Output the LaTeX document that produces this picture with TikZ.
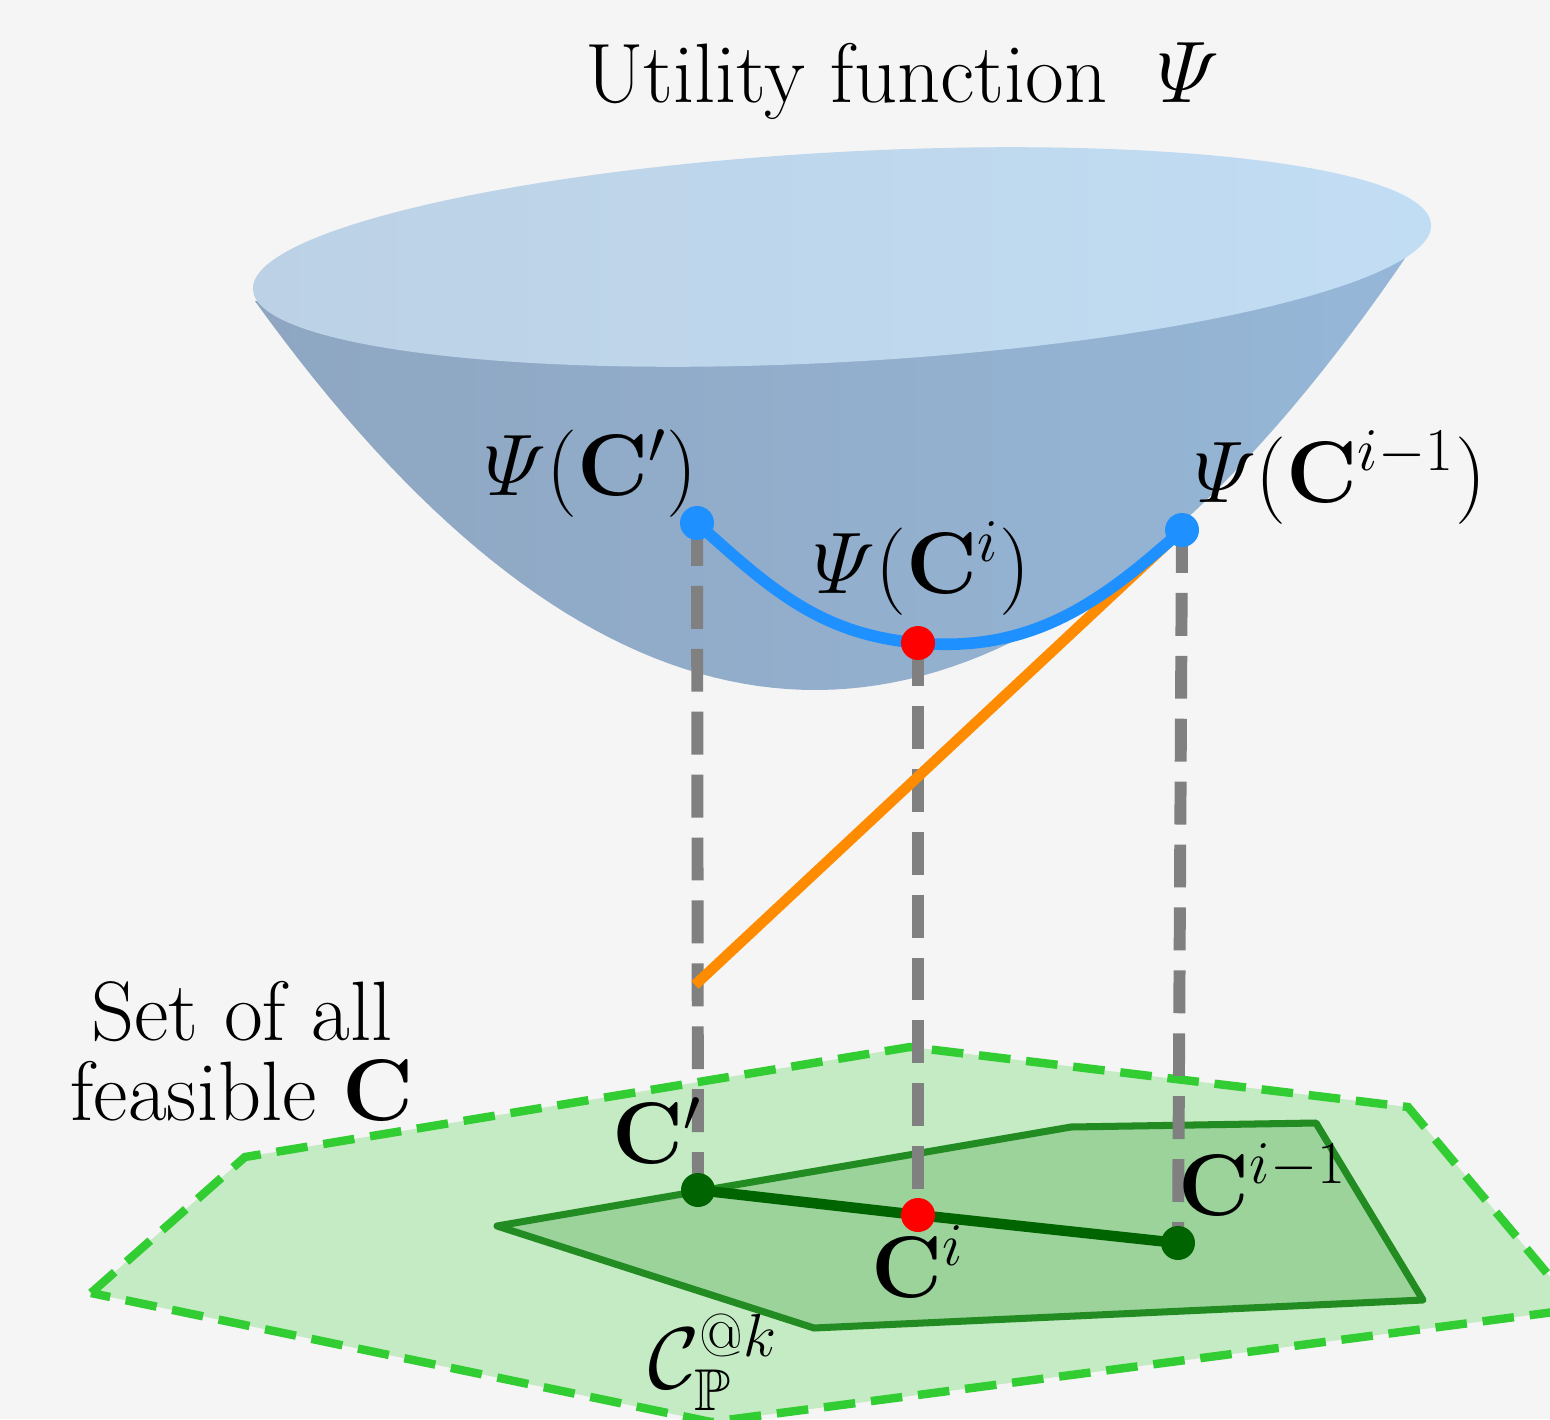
\documentclass[tikz,border=0pt]{standalone}
\usepackage{amsmath,amssymb}
\usepackage{xcolor}
\usepackage{tikz}
\usetikzlibrary{arrows.meta,positioning,calc}
\definecolor{softgray}{RGB}{245,245,245}
\definecolor{rimleft}{RGB}{188,209,229}
\definecolor{rimright}{RGB}{193,221,244}
\definecolor{bowlleft}{RGB}{142,166,193}
\definecolor{bowlright}{RGB}{150,183,216}
\definecolor{curveblue}{RGB}{30,144,255}
\definecolor{chordorange}{RGB}{255,140,0}
\definecolor{dropgray}{RGB}{128,128,128}
\definecolor{setgreen}{RGB}{50,205,50}
\definecolor{setfill}{RGB}{196,235,196}
\definecolor{regiongreen}{RGB}{34,139,34}
\definecolor{regionfill}{RGB}{155,211,155}
\definecolor{pathgreen}{RGB}{0,100,0}
\newcommand{\labelfont}{\fontsize{24}{22.7}\selectfont}

\begin{document}
\begin{tikzpicture}[every node/.style={font=\labelfont,inner sep=0pt},
  dot/.style={circle,inner sep=0pt,minimum size=0.34cm},
  drop/.style={dropgray,line width=3.4pt,dash pattern=on 12.2pt off 5.7pt}]
\useasboundingbox (0,0) rectangle (15.5,14.19);
\fill[softgray] (0,0) rectangle (15.5,14.19);
% feasible set and the region P
\begin{scope}
\clip (0,0) rectangle (15.5,14.19);
\draw[line width=2.4pt,dash pattern=on 9pt off 4.5pt,draw=setgreen,fill=setfill] (0.91,1.26) -- (2.45,2.62) -- (9.10,3.72) -- (14.08,3.12) -- (15.77,1.10) -- (7.11,-0.03) -- cycle;
\end{scope}
\draw[line width=2pt,line join=round,draw=regiongreen,fill=regionfill] (4.97,1.93) -- (10.71,2.92) -- (13.16,2.96) -- (14.23,1.19) -- (8.14,0.91) -- cycle;
% the bowl
\shade[left color=bowlleft,right color=bowlright] plot[domain=2.55:14.25,samples=80] (\x,{7.29+0.124*(\x-8.15)^2}) -- cycle;
\shade[left color=rimleft,right color=rimright,shift={(8.42,11.62)},rotate=3.16] (0,0) ellipse (5.90 and 1.05);
% points
\coordinate (psiA) at (6.97,8.96);
\coordinate (psiB) at (9.18,7.76);
\coordinate (psiC) at (11.82,8.89);
\coordinate (cA) at (6.98,2.29);
\coordinate (cB) at (9.18,2.04);
\coordinate (cC) at (11.78,1.76);
\coordinate (chordEnd) at (6.95,4.34);
\draw[drop] (psiA) -- (cA);
\draw[drop] (psiB) -- (cB);
\draw[drop] (psiC) -- (cC);
\draw[chordorange,line width=3pt] (psiC) -- (chordEnd);
\draw[curveblue,line width=3.3pt] (psiA) to[out=-42,in=175] (psiB) to[out=-5,in=-138] (psiC);
\draw[pathgreen,line width=3pt] (cA) -- (cB) -- (cC);
\node[dot,fill=curveblue] at (psiA) {};
\node[dot,fill=red] at (psiB) {};
\node[dot,fill=curveblue] at (psiC) {};
\node[dot,fill=pathgreen] at (cA) {};
\node[dot,fill=red] at (cB) {};
\node[dot,fill=pathgreen] at (cC) {};
% labels
\node[anchor=base] (title) at (9.02,13.16) {Utility function $\;\varPsi$};
\node[anchor=base] (lblPsiA) at (5.91,9.24) {$\varPsi(\mathbf{C}')$};
\node[anchor=base] (lblPsiB) at (9.22,8.26) {$\varPsi(\mathbf{C}^i)$};
\node[anchor=base] (lblPsiC) at (13.40,9.17) {$\varPsi(\mathbf{C}^{i-1})$};
\node[anchor=base] (lblCA) at (6.57,2.56) {$\mathbf{C}'$};
\node[anchor=base] (lblCB) at (9.18,1.22) {$\mathbf{C}^i$};
\node[anchor=base] (lblCC) at (12.63,2.04) {$\mathbf{C}^{i-1}$};
\node[anchor=base] (lblSet) at (7.13,0.31) {$\mathcal{C}_{\mathbb{P}}^{@k}$};
\node[align=center] (lblFeasible) at (2.42,3.68) {Set of all\\feasible $\mathbf{C}$};
\end{tikzpicture}
\end{document}
